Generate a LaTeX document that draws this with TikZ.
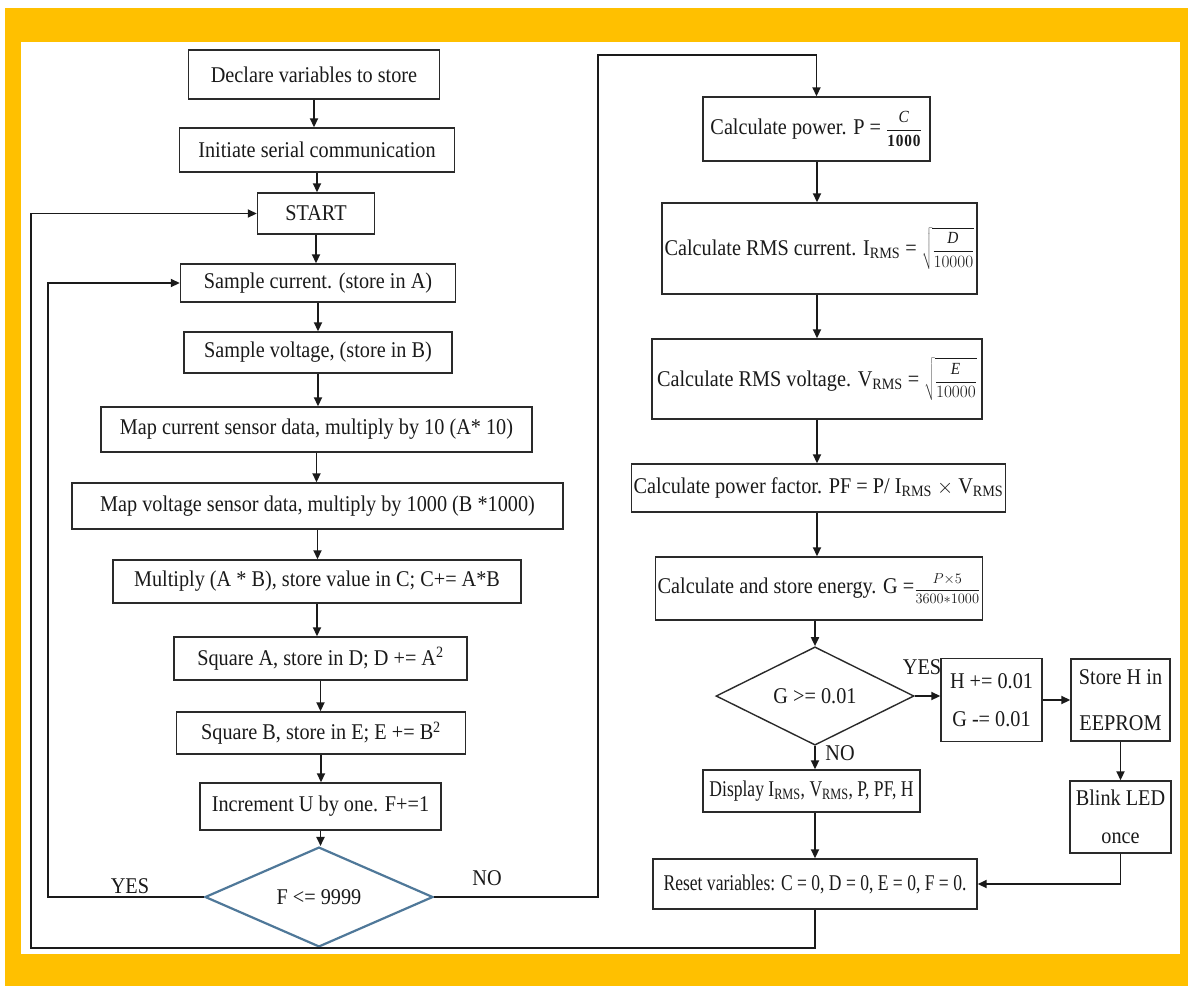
\documentclass[tikz,border=0pt]{standalone}
\usepackage{fontspec}
\setmainfont{Liberation Serif}[FakeStretch=0.9]
\newfontfamily\condfont{Liberation Serif}[FakeStretch=0.78]
\usetikzlibrary{shapes.geometric,arrows.meta}
\definecolor{frameyellow}{HTML}{FFC000}
\definecolor{linegray}{HTML}{2A2A2A}
\definecolor{dblue}{HTML}{4F7899}
\definecolor{inktext}{HTML}{1A1A1A}
\newcommand{\mfrac}[3][17]{{\fontsize{#1}{19}\selectfont$\displaystyle\frac{#2}{#3}$}}
\newcommand{\msqfrac}[2]{{\fontsize{17}{19}\selectfont$\displaystyle\sqrt{\frac{#1}{#2}}$}}
\begin{document}
\begin{tikzpicture}[x=1pt,y=-1pt,
  box/.style={draw=linegray, line width=1.4pt, fill=white, inner sep=2pt,
    font=\fontsize{22.5}{26}\selectfont, text=inktext, align=center},
  dec/.style={diamond, draw=linegray, line width=1.4pt, inner sep=0pt,
    font=\fontsize{22.5}{26}\selectfont, text=inktext, align=center},
  arr/.style={-{Triangle[length=9pt,width=8pt]}, line width=1.8pt, draw=inktext},
  lbl/.style={font=\fontsize{22.5}{26}\selectfont, text=inktext}]
\useasboundingbox (0,0) rectangle (1188,986);
\fill[white] (0,0) rectangle (1188,986);
\fill[frameyellow] (5,8) rectangle (1188,986);
\fill[white] (21,42) rectangle (1180,954);

% left column
\node[box, minimum width=251pt, minimum height=49pt] (n1) at (314,74.5) {Declare variables to store};
\node[box, minimum width=275pt, minimum height=44pt] (n2) at (317,150) {Initiate serial communication};
\node[box, minimum width=117pt, minimum height=41pt] (n3) at (316,213.5) {START};
\node[box, minimum width=275pt, minimum height=38pt] (n4) at (318,283) {Sample current. (store in A)};
\node[box, minimum width=268pt, minimum height=41pt] (n5) at (318,352.5) {Sample voltage, (store in B)};
\node[box, minimum width=431pt, minimum height=45pt] (n6) at (316.5,429.5) {Map current sensor data, multiply by 10 (A* 10)};
\node[box, minimum width=491pt, minimum height=46pt] (n7) at (317.5,506) {Map voltage sensor data, multiply by 1000 (B *1000)};
\node[box, minimum width=408pt, minimum height=43pt] (n8) at (317,581.5) {Multiply (A * B), store value in C; C+= A*B};
\node[box, minimum width=293pt, minimum height=43pt] (n9) at (320.5,658.5) {Square A, store in D; D += A\textsuperscript{2}};
\node[box, minimum width=289pt, minimum height=42pt] (n10) at (321,733) {Square B, store in E; E += B\textsuperscript{2}};
\node[box, minimum width=241pt, minimum height=47pt] (n11) at (320.5,806.5) {Increment U by one. F+=1};
\node[dec, draw=dblue, line width=2.2pt, minimum width=228pt, minimum height=81pt] (fd) at (319,897) {F <= 9999};

% right column
\node[box, minimum width=227pt, minimum height=64pt] (p1) at (816.5,129) {Calculate power. P = \mfrac{\mathit{C}}{\mathbf{1000}}};
\node[box, minimum width=315pt, minimum height=91pt] (p2) at (819.5,248.5) {Calculate RMS current. I\textsubscript{RMS} = \msqfrac{\mathit{D}}{10000}};
\node[box, minimum width=330pt, minimum height=80pt] (p3) at (817,379) {Calculate RMS voltage. V\textsubscript{RMS} = \msqfrac{\mathit{E}}{10000}};
\node[box, minimum width=373pt, minimum height=48pt] (p4) at (818.5,488) {Calculate power factor. PF = P/ I\textsubscript{RMS} $\times$ V\textsubscript{RMS}};
\node[box, minimum width=318pt, minimum height=63pt] (p5) at (819,588.5) {Calculate and store energy. G =\mfrac[14]{P{\times}5}{3600{*}1000}};
\node[dec, minimum width=198pt, minimum height=86pt] (gd) at (815,696) {G >= 0.01};
\node[box, minimum width=101pt, minimum height=83pt] (hb) at (991.5,700) {H += 0.01\\[12pt]G -= 0.01};
\node[box, minimum width=99pt, minimum height=82pt] (st) at (1120.5,700) {Store H in\\[20pt]EEPROM};
\node[box, minimum width=101pt, minimum height=72pt] (bl) at (1120.5,817) {Blink LED\\[12pt]once};
\node[box, minimum width=217pt, minimum height=42pt] (dp) at (811.5,791) {{\condfont Display I\textsubscript{RMS}, V\textsubscript{RMS}, P, PF, H}};
\node[box, minimum width=324pt, minimum height=50pt] (rs) at (815,884) {{\condfont Reset variables: C = 0, D = 0, E = 0, F = 0.}};

% left arrows
\foreach \a/\b in {n1/n2,n2/n3,n3/n4,n4/n5,n5/n6,n6/n7,n7/n8,n8/n9,n9/n10,n10/n11}
  \draw[arr] (\a.south) -- (\a.south |- \b.north);
\draw[arr] (n11.south) -- (n11.south |- fd.north);

% right arrows
\foreach \a/\b in {p1/p2,p2/p3,p3/p4,p4/p5}
  \draw[arr] (817,0 |- \a.south) -- (817,0 |- \b.north);
\draw[arr] (p5.south -| gd.north) -- (gd.north);
\draw[arr] (gd.east) -- (gd.east -| hb.west);
\draw[arr] (hb.east) -- (st.west);
\draw[arr] (st.south) -- (bl.north);
\draw[arr] (bl.south) |- (rs.east);
\draw[arr] (gd.south) -- (gd.south |- dp.north);
\draw[arr] (gd.south |- dp.south) -- (gd.south |- rs.north);

% loops
\draw[arr] (fd.west) -- (48,897) |- (n4.west);
\draw[arr] (fd.east) -- (598,897) -- (598,55) -| (p1.north);
\draw[arr] (rs.south) |- (31,948) |- (n3.west);

% labels
\node[lbl] (yesf) at (130,886) {YES};
\node[lbl] (nof) at (487,878) {NO};
\node[lbl] (yesg) at (922,667) {YES};
\node[lbl] (nog) at (840,753) {NO};
\end{tikzpicture}
\end{document}
